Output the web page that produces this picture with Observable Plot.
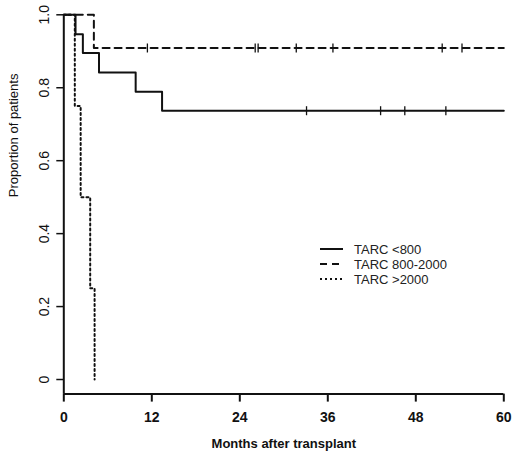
<!DOCTYPE html>
<html>
<head>
<meta charset="utf-8">
<script src="https://cdn.jsdelivr.net/npm/d3@7"></script>
<script src="https://cdn.jsdelivr.net/npm/@observablehq/plot@0.6"></script>
<style>
  body { margin: 0; background: #fff; }
  #chart { position: relative; width: 520px; height: 461px; }
  #chart svg.legend { position: absolute; left: 0; top: 0; pointer-events: none; }
</style>
</head>
<body>
<div id="chart"></div>
<script>
// Kaplan-Meier steps (months, proportion)
const groups = ["TARC <800", "TARC 800-2000", "TARC >2000"];
const lowTimes = [0, 1.6, 2.6, 4.8, 9.8, 13.4, 60];
const lowSurv  = [1, 0.947, 0.895, 0.842, 0.789, 0.737, 0.737];
const midTimes = [0, 4.1, 60];
const midSurv  = [1, 0.909, 0.909];
const highTimes = [0, 1.5, 2.3, 3.6, 4.2];
const highSurv  = [1, 0.75, 0.5, 0.25, 0];
// censored patients (months)
const lowCensor = [33.1, 43.2, 46.5, 52.1];
const midCensor = [11.4, 26.1, 26.5, 31.7, 36.7, 51.6, 54.3];

const xTicks = [0, 12, 24, 36, 48, 60];
const yTicks = [0, 0.2, 0.4, 0.6, 0.8, 1.0];
const xLabel = "Months after transplant";
const yLabel = "Proportion of patients";

const dashes = ["none", "7,5", "2,3"];

const series = [
  [lowTimes, lowSurv],
  [midTimes, midSurv],
  [highTimes, highSurv]
];
const steps = series.flatMap(([ts, ss], g) =>
  ts.map((t, i) => ({group: groups[g], t, s: ss[i]})));

// survival value at time t for a group (step lookup)
function survAt(g, t) {
  const [ts, ss] = series[g];
  let v = ss[0];
  ts.forEach((x, i) => { if (x <= t) v = ss[i]; });
  return v;
}
const censored = [
  ...lowCensor.map(t => ({t, s: survAt(0, t)})),
  ...midCensor.map(t => ({t, s: survAt(1, t)}))
];

const vbar = {
  draw(ctx, size) {
    const r = Math.sqrt(size / Math.PI);
    ctx.moveTo(0, -r);
    ctx.lineTo(0, r);
  }
};

const yDomain = [-0.04, 1];

const chart = Plot.plot({
  width: 520,
  height: 461,
  marginLeft: 63.3,
  marginRight: 16.7,
  marginTop: 14.3,
  marginBottom: 67.4,
  style: {fontFamily: "Liberation Sans, Arial, sans-serif", fontSize: "13px", color: "#111"},
  x: {domain: [0, 60]},
  y: {domain: yDomain},
  marks: [
    Plot.ruleX([0], {strokeWidth: 2}),
    Plot.ruleY([yDomain[0]], {strokeWidth: 2}),
    Plot.axisX({ticks: xTicks, tickSize: 8, tickPadding: 10, strokeWidth: 2,
                fontWeight: "bold", fontSize: 14, label: null}),
    Plot.axisY({ticks: yTicks, tickSize: 7, tickPadding: 8, strokeWidth: 1.5,
                tickRotate: -90, fontSize: 14, label: null,
                tickFormat: d => d === 0 ? "0" : d.toFixed(1)}),
    ...groups.map((name, g) =>
      Plot.line(steps.filter(d => d.group === name), {
        x: "t", y: "s", curve: "step-after",
        stroke: "#111", strokeWidth: 2,
        strokeDasharray: dashes[g] === "none" ? null : dashes[g]
      })),
    Plot.dot(censored, {x: "t", y: "s", symbol: vbar, r: 4.5,
                        stroke: "#111", strokeWidth: 1.3, fill: "none"}),
    Plot.text([yLabel], {frameAnchor: "left", y: () => (yTicks[0] + yTicks[yTicks.length - 1]) / 2,
                         dx: -50, rotate: -90, fontSize: 13}),
    Plot.text([xLabel], {frameAnchor: "bottom", dy: 54, fontWeight: "bold", fontSize: 13})
  ]
});

const holder = d3.select("#chart");
holder.append(() => chart);

// legend drawn inside the plot area, no box
const legend = holder.append("svg")
  .attr("class", "legend")
  .attr("width", 520)
  .attr("height", 461);
const rows = legend.selectAll("g").data(groups).join("g")
  .attr("transform", (d, i) => `translate(320,${249 + i * 15})`);
rows.append("line")
  .attr("x1", 0).attr("x2", 23)
  .attr("stroke", "#111").attr("stroke-width", 2)
  .attr("stroke-dasharray", (d, i) => dashes[i] === "none" ? null : dashes[i]);
rows.append("text")
  .attr("x", 34).attr("dy", "0.35em")
  .attr("font-family", "Liberation Sans, Arial, sans-serif")
  .attr("font-size", 13).attr("fill", "#222")
  .text(d => d);
</script>
</body>
</html>
